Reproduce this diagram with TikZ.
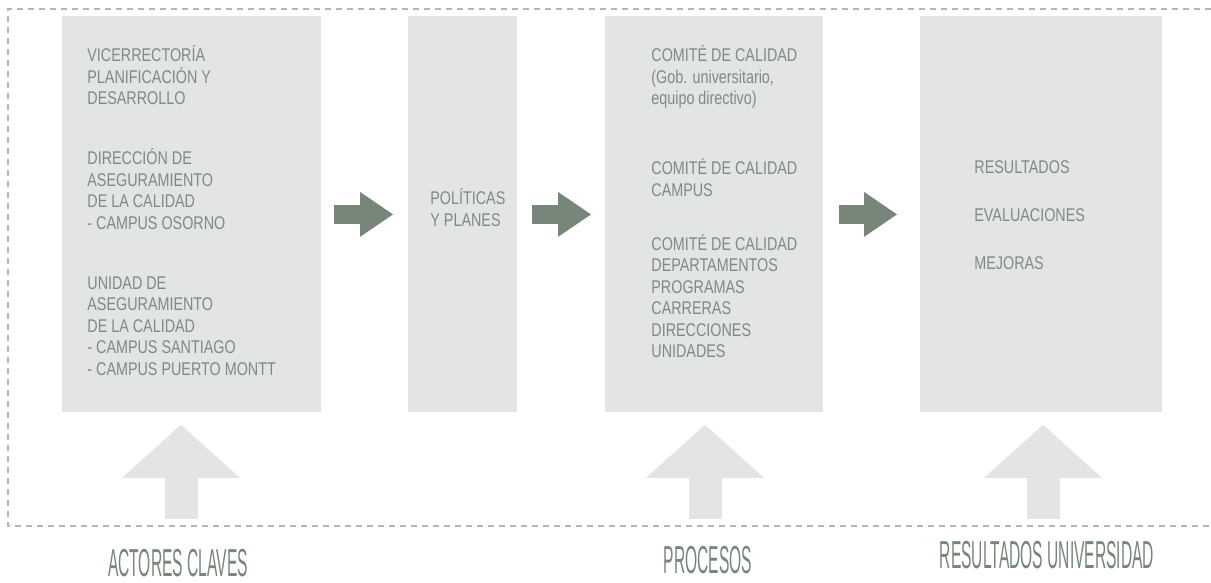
\documentclass[tikz,border=0pt]{standalone}
\usepackage{fontspec}
\setmainfont[FakeStretch=0.78]{Liberation Sans}
\newfontfamily\rotulofont[FakeStretch=0.40]{Liberation Sans}
\usetikzlibrary{arrows.meta}
\definecolor{gris}{HTML}{E3E5E4}
\definecolor{verde}{HTML}{778679}
\definecolor{texto}{HTML}{7D8B81}
\definecolor{borde}{HTML}{B3B6B4}

\begin{document}
\begin{tikzpicture}[x=0.5pt, y=-0.5pt, inner sep=0pt,
	caja/.style={fill=gris, anchor=north west},
	lista/.style={anchor=north west, align=left, text=texto, font=\fontsize{9.2}{10.75}\selectfont},
	rotulo/.style={anchor=base, text depth=0pt, text=verde, font=\rotulofont\fontsize{19.5}{20}\selectfont},
	flechader/.style={draw=verde, line width=9.5pt, -{Triangle[width=22.5pt, length=16.5pt, line width=0pt]}},
	flechaarr/.style={draw=gris, line width=16.5pt, -{Triangle[width=59pt, length=26.5pt, line width=0pt]}}]
	
	\useasboundingbox (0,0) rectangle (1211,583);
	
	% marco
	\draw[borde, line width=0.6pt, dash pattern=on 3pt off 2.5pt] (1211,9) -- (8,9) -- (8,526) -- (1211,526);
	
	% cajas
	\node[caja, minimum width=129.5pt, minimum height=198pt](actores) at (62,16) {};
	\node[caja, minimum width=54.5pt, minimum height=198pt](politicas) at (408,16) {};
	\node[caja, minimum width=109pt, minimum height=198pt](procesos) at (605,16) {};
	\node[caja, minimum width=121pt, minimum height=198pt](resultados) at (920,16) {};
	
	% textos
	\node[lista](t_actores) at (87,45.5) {VICERRECTORÍA\\PLANIFICACIÓN Y\\DESARROLLO\\[19.25pt]
		DIRECCIÓN DE\\ASEGURAMIENTO\\DE LA CALIDAD\\- CAMPUS OSORNO\\[19.25pt]
		UNIDAD DE\\ASEGURAMIENTO\\DE LA CALIDAD\\- CAMPUS SANTIAGO\\- CAMPUS PUERTO MONTT};
	\node[lista](t_politicas) at (430,188.5) {POLÍTICAS\\Y PLANES};
	\node[lista](t_procesos) at (651,45.5) {COMITÉ DE CALIDAD\\(Gob. universitario,\\equipo directivo)\\[24.25pt]
		COMITÉ DE CALIDAD\\CAMPUS\\[16.25pt]
		COMITÉ DE CALIDAD\\DEPARTAMENTOS\\PROGRAMAS\\CARRERAS\\DIRECCIONES\\UNIDADES};
	\node[lista](t_resultados) at (974,160) {RESULTADOS\\[13.25pt]EVALUACIONES\\[13.25pt]MEJORAS};
	
	\node[rotulo](r_actores) at (178,576) {ACTORES CLAVES};
	\node[rotulo](r_procesos) at (708,573) {PROCESOS};
	\node[rotulo](r_resultados) at (1047,568) {RESULTADOS UNIVERSIDAD};
	
	\coordinate (base_a) at (181,519);
	\coordinate (base_p) at (705,519);
	\coordinate (base_r) at (1043,519);
	
	% flechas horizontales
	\draw[flechader, shorten <=6pt, shorten >=7.5pt](actores) -- (politicas);
	\draw[flechader, shorten <=7pt, shorten >=7pt](politicas) -- (procesos);
	\draw[flechader, shorten <=7.5pt, shorten >=11.5pt](procesos) -- (resultados);
	
	% flechas verticales
	\draw[flechaarr, shorten >=6pt](base_a) -- (actores.south -| base_a);
	\draw[flechaarr, shorten >=6pt](base_p) -- (procesos.south -| base_p);
	\draw[flechaarr, shorten >=6pt](base_r) -- (resultados.south -| base_r);
\end{tikzpicture}
\end{document}
